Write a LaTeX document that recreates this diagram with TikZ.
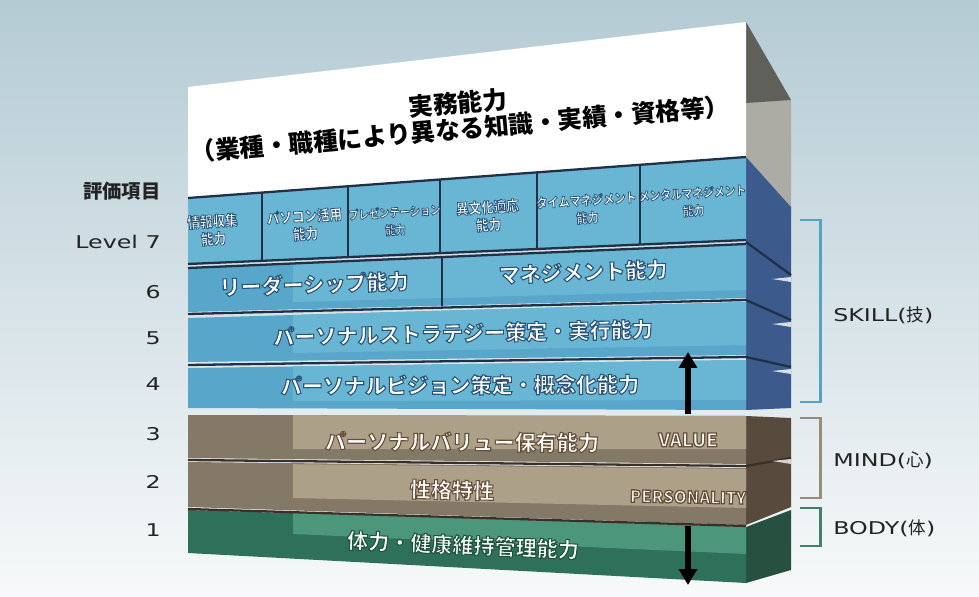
\documentclass[tikz,border=0pt]{standalone}
\usepackage{fontspec}
\usetikzlibrary{arrows.meta,positioning,calc}
\newfontfamily\jpfont{Noto Sans CJK JP}
\newfontfamily\condfont{Noto Sans CJK JP}[FakeStretch=0.86]
\newfontfamily\latfont{DejaVu Sans}[FakeStretch=1.35]
% text render mode: plain fill, or white fill with a coloured rim
\newcommand{\plaintr}{\special{pdf:literal direct 0 Tr}}
\newcommand{\rimtr}[2]{\color{white}\special{pdf:literal direct 2 Tr #1 w #2 RG}}
\definecolor{bgtop}{RGB}{180,203,212}
\definecolor{bgmid}{RGB}{214,227,232}
\definecolor{bgbot}{RGB}{247,249,250}
\definecolor{skyblue}{RGB}{88,166,202}
\definecolor{skylight}{RGB}{104,181,212}
\definecolor{navyside}{RGB}{60,90,140}
\definecolor{navyline}{RGB}{34,48,70}
\definecolor{taupe}{RGB}{132,120,102}
\definecolor{taupelight}{RGB}{172,160,137}
\definecolor{taupeside}{RGB}{88,75,62}
\definecolor{taupeline}{RGB}{58,48,40}
\definecolor{jade}{RGB}{46,112,89}
\definecolor{jadelight}{RGB}{76,150,123}
\definecolor{jadeside}{RGB}{40,80,64}
\definecolor{greyside}{RGB}{172,172,165}
\definecolor{greydark}{RGB}{96,96,90}
\definecolor{skillcol}{RGB}{84,164,192}
\definecolor{mindcol}{RGB}{150,140,122}
\definecolor{bodycol}{RGB}{62,130,104}
\definecolor{labelcol}{RGB}{35,35,35}
\tikzset{
    seam/.style      = {draw=#1, line width=1.3pt},
    bracket/.style   = {draw=#1, line width=1.7pt},
    wedge/.style     = {fill=white!80!navyside},
    lvltext/.style   = {anchor=east, inner sep=0pt, text=labelcol,
            font=\latfont\fontsize{10}{12}\selectfont\plaintr},
    hdrtext/.style   = {anchor=east, inner sep=0pt, text=labelcol,
            font=\jpfont\bfseries\fontsize{11}{13}\selectfont\plaintr},
    grptext/.style   = {anchor=west, inner sep=0pt, text=labelcol,
            font=\latfont\fontsize{10}{12}\selectfont\plaintr},
    titletext/.style = {inner sep=0pt, text=black, align=center,
            font=\jpfont\bfseries\fontsize{14}{15}\selectfont\plaintr},
    skytext/.style   = {inner sep=0pt,
            font=\jpfont\bfseries\fontsize{12}{14}\selectfont\rimtr{0.62}{0.16 0.33 0.47}},
    celltext/.style  = {inner sep=0pt, align=center,
            font=\condfont\bfseries\fontsize{#1}{10}\selectfont\rimtr{0.42}{0.16 0.33 0.47}},
    taupetext/.style = {inner sep=0pt,
            font=\jpfont\bfseries\fontsize{12}{14}\selectfont\rimtr{0.62}{0.40 0.31 0.22}},
    tagtext/.style   = {inner sep=0pt,
            font=\jpfont\bfseries\fontsize{#1}{12}\selectfont\rimtr{0.75}{0.40 0.31 0.22}},
    jadetext/.style  = {inner sep=0pt,
            font=\jpfont\bfseries\fontsize{12}{14}\selectfont\rimtr{0.62}{0.12 0.33 0.25}},
    pointer/.style   = {line width=3.4pt, -{Triangle[length=9pt,width=10pt]}},
}
\begin{document}
\begin{tikzpicture}[x=0.02cm, y=-0.02cm]
    \useasboundingbox (0,0) rectangle (979,597);
    \shade[top color=bgtop, middle color=bgmid, bottom color=bgbot] (0,0) rectangle (979,597);

    % side faces
    \fill[greyside] (746,22) -- (791,100) -- (791,207) -- (746,157) -- cycle;
    \fill[greydark] (746,22) -- (791,100) -- (746,103) -- cycle;
    \fill[navyside] (746,157) -- (791,207) -- (791,408) -- (746,410) -- cycle;
    \draw[seam=navyline] (746,242) -- (791,275) (746,300) -- (791,320) (746,357) -- (791,367);
    \foreach \yy in {277,322,369}
        \fill[wedge] (772,{\yy+2}) -- (791,\yy) -- (791,{\yy+5}) -- cycle;
    \fill[taupeside] (746,416) -- (791,418) -- (791,507) -- (746,525) -- cycle;
    \draw[seam=taupeline] (746,466) -- (791,458);
    \fill[white!75!taupeside] (772,461) -- (791,459) -- (791,464) -- cycle;
    \fill[jadeside] (746,527) -- (791,510) -- (791,570) -- (746,583) -- cycle;

    % top block
    \fill[white] (188,87) -- (746,22) -- (746,157) -- (188,198) -- cycle;

    % level 7: skill cells
    \fill[skylight] (188,198) -- (746,157) -- (746,240) -- (188,264) -- cycle;
    \foreach \t in {0.1326,0.2867,0.4516,0.6254,0.8100}
        \draw[seam=navyline] ($(188,198)!\t!(746,157)$) -- ($(188,264)!\t!(746,240)$);
    \draw[seam=navyline] (188,198) -- (746,157);
    \draw[seam=navyline] (188,264) -- (746,240);

    % level 6
    \fill[skyblue] (188,268) -- (746,244) -- (746,298) -- (188,312) -- cycle;
    \fill[skylight] (293,263.5) -- (746,244) -- (746,290) -- (293,302) -- cycle;
    \draw[seam=navyline] ($(188,268)!0.4552!(746,244)$) -- ($(188,312)!0.4552!(746,298)$);
    \draw[seam=navyline] (188,268) -- (746,244);

    % level 5
    \fill[skyblue] (188,318) -- (746,302) -- (746,355) -- (188,362) -- cycle;
    \fill[skylight] (293,315) -- (746,302) -- (746,345) -- (293,353) -- cycle;
    \draw[seam=navyline] (188,314) -- (746,300);

    % level 4
    \fill[skyblue] (188,368) -- (746,360) -- (746,410) -- (188,408) -- cycle;
    \fill[skylight] (293,366.5) -- (746,360) -- (746,400) -- (293,401) -- cycle;
    \draw[seam=navyline] (188,365) -- (746,357);

    % level 3 and 2
    \fill[taupe] (188,415) -- (746,416) -- (746,464) -- (188,458) -- cycle;
    \fill[taupelight] (293,415.2) -- (746,416) -- (746,449) -- (293,449) -- cycle;
    \fill[taupe] (188,462) -- (746,468) -- (746,525) -- (188,507) -- cycle;
    \fill[taupelight] (293,464.2) -- (746,469) -- (746,508) -- (293,498) -- cycle;
    \draw[seam=taupeline] (188,460) -- (746,466);

    % level 1
    \fill[jade] (188,510) -- (746,527) -- (746,583) -- (188,553) -- cycle;
    \fill[jadelight] (293,513) -- (746,527) -- (746,554) -- (293,534) -- cycle;
    \draw[seam=taupeline] (188,509) -- (746,526);

    % texts on the block
    \node[titletext, rotate=5] (title) at (459,116) {実務能力\\（業種・職種により異なる知識・実績・資格等）};
    \node[celltext=8.3, rotate=3.5] (c1) at (213,230) {情報収集\\能力};
    \node[celltext=8.3, rotate=3.5] (c2) at (305,225) {パソコン活用\\能力};
    \node[celltext=6.8, rotate=3.5] (c3) at (395,221) {プレゼンテーション\\能力};
    \node[celltext=8.3, rotate=3.5] (c4) at (488,216) {異文化適応\\能力};
    \node[celltext=7.4, rotate=3.5] (c5) at (587,209) {タイムマネジメント\\能力};
    \node[celltext=7.1, rotate=3.5] (c6) at (693,202) {メンタルマネジメント\\能力};
    \node[skytext, rotate=2] (lead) at (314,284) {リーダーシップ能力};
    \node[skytext, rotate=2] (mgmt) at (583,272) {マネジメント能力};
    \node[skytext, rotate=1.2] (strat) at (463,333) {パーソナルストラテジー策定・実行能力};
    \node[skytext, rotate=0.3] (vision) at (460,385) {パーソナルビジョン策定・概念化能力};
    \node[taupetext, rotate=-0.3] (value) at (462,442) {パーソナルバリュー保有能力};
    \node[taupetext, rotate=-1.3] (trait) at (452,490) {性格特性};
    \node[jadetext, rotate=-2.4] (health) at (463,545) {体力・健康維持管理能力};
    \node[tagtext=10.5] (tagvalue) at (688,440) {VALUE};
    \node[tagtext=9.4, rotate=-1] (tagpers) at (688,497) {PERSONALITY};

    % arrows
    \coordinate (risefoot) at (688,414);
    \coordinate (risetip) at (688,352);
    \coordinate (dropfoot) at (688,526);
    \coordinate (droptip) at (688,585);
    \draw[pointer] (risefoot) -- (risetip);
    \draw[pointer] (dropfoot) -- (droptip);

    % level labels
    \node[hdrtext] (hdr) at (161,191) {評価項目};
    \node[lvltext] (l7) at (161,242) {Level 7};
    \node[lvltext] (l6) at (161,292) {6};
    \node[lvltext] (l5) at (161,338) {5};
    \node[lvltext] (l4) at (161,384) {4};
    \node[lvltext] (l3) at (161,434) {3};
    \node[lvltext] (l2) at (161,482) {2};
    \node[lvltext] (l1) at (161,530) {1};

    % group brackets
    \draw[bracket=skillcol] (800,220) -| (820,402) -- (800,402);
    \draw[bracket=mindcol] (800,418) -| (820,498) -- (800,498);
    \draw[bracket=bodycol] (800,508) -| (820,546) -- (800,546);
    \coordinate (skillmid) at (820,315);
    \coordinate (mindmid) at (820,460);
    \coordinate (bodymid) at (820,528);
    \node[grptext, right=2.6mm of skillmid] (skill) {SKILL({\jpfont 技})};
    \node[grptext, right=2.6mm of mindmid] (mind) {MIND({\jpfont 心})};
    \node[grptext, right=2.6mm of bodymid] (body) {BODY({\jpfont 体})};
\end{tikzpicture}
\end{document}
